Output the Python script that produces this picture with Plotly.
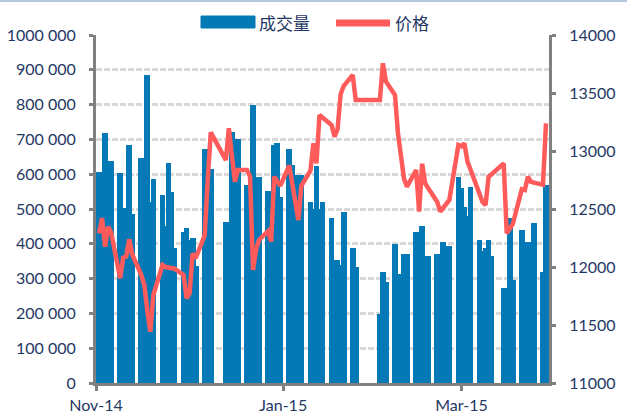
import plotly.graph_objects as go

# ---------------- data ----------------
dates = [
    "2014-11-24", "2014-11-25", "2014-11-26", "2014-11-27", "2014-11-28",
    "2014-12-01", "2014-12-02", "2014-12-03", "2014-12-04", "2014-12-05",
    "2014-12-08", "2014-12-09", "2014-12-10", "2014-12-11", "2014-12-12",
    "2014-12-15", "2014-12-16", "2014-12-17", "2014-12-18", "2014-12-19",
    "2014-12-22", "2014-12-23", "2014-12-24", "2014-12-25", "2014-12-26",
    "2014-12-29", "2014-12-30", "2014-12-31",
    "2015-01-05", "2015-01-06", "2015-01-07", "2015-01-08", "2015-01-09",
    "2015-01-12", "2015-01-13", "2015-01-14", "2015-01-15", "2015-01-16",
    "2015-01-19", "2015-01-20", "2015-01-21", "2015-01-22", "2015-01-23",
    "2015-01-26", "2015-01-27", "2015-01-28", "2015-01-29", "2015-01-30",
    "2015-02-02", "2015-02-03", "2015-02-04", "2015-02-05", "2015-02-06",
    "2015-02-09", "2015-02-10", "2015-02-11", "2015-02-12", "2015-02-13",
    "2015-02-16", "2015-02-17",
    "2015-02-25", "2015-02-26", "2015-02-27",
    "2015-03-02", "2015-03-03", "2015-03-04", "2015-03-05", "2015-03-06",
    "2015-03-09", "2015-03-10", "2015-03-11", "2015-03-12", "2015-03-13",
    "2015-03-16", "2015-03-17", "2015-03-18", "2015-03-19", "2015-03-20",
    "2015-03-23", "2015-03-24", "2015-03-25", "2015-03-26", "2015-03-27",
    "2015-03-30", "2015-03-31", "2015-04-01", "2015-04-02", "2015-04-03",
    "2015-04-07", "2015-04-08", "2015-04-09", "2015-04-10",
    "2015-04-13", "2015-04-14", "2015-04-15", "2015-04-16", "2015-04-17",
    "2015-04-20", "2015-04-21",
]

volume = [
    607000, 550000, 717000, 600000, 638000,
    603000, 500000, 504000, 683000, 487000,
    648000, 600000, 885000, 521000, 585000,
    539000, 452000, 631000, 548000, 389000,
    434000, 446000, 410000, 418000, 336000,
    671000, 614000, 614000,
    463000, 450000, 720000, 700000, 700000,
    569000, 540000, 799000, 560000, 591000,
    551000, 520000, 684000, 689000, 534000,
    671000, 626000, 590000, 598000, 598000,
    521000, 500000, 623000, 500000, 521000,
    475000, 353000, 353000, 340000, 492000,
    389000, 334000,
    198000, 318000, 291000,
    400000, 300000, 314000, 372000, 372000,
    435000, 420000, 451000, 340000, 365000,
    371000, 360000, 406000, 380000, 394000,
    593000, 559000, 505000, 480000, 564000,
    411000, 380000, 387000, 411000, 365000,
    272000, 260000, 473000, 296000,
    440000, 400000, 406000, 400000, 459000,
    320000, 569000,
]

price = [
    12290, 12420, 12175, 12347, 12300,
    11903, 12080, 12089, 12239, 12110,
    11930, 11845, 11620, 11442, 11760,
    12017, 12000, 11995, 11990, 11985,
    11930, 11730, 11773, 12118, 12075,
    12276, 12750, 13160,
    12922, 13196, 12960, 12735, 12836,
    12836, 12780, 11974, 12150, 12233,
    12310, 12218, 12779, 12740, 12700,
    12875, 12720, 12600, 12405, 12700,
    12830, 13066, 12894, 13310, 13290,
    13224, 13123, 13190, 13490, 13560,
    13655, 13440,
    13440, 13756, 13600,
    13483, 13150, 12950, 12760, 12693,
    12836, 12477, 12890, 12721, 12680,
    12560, 12477, 12510, 12550, 12578,
    13052, 13040, 13066, 12908, 12840,
    12630, 12560, 12534, 12779, 12800,
    12894, 12290, 12330, 12370,
    12670, 12664, 12779, 12735, 12727,
    12710, 13238,
]

x_tick_vals = ["2014-11-23", "2015-01-24", "2015-03-24"]
x_tick_text = ["Nov-14", "Jan-15", "Mar-15"]
y_tick_vals = [0, 100000, 200000, 300000, 400000, 500000, 600000, 700000, 800000, 900000, 1000000]
y_tick_text = ["0", "100 000", "200 000", "300 000", "400 000", "500 000",
               "600 000", "700 000", "800 000", "900 000", "1000 000"]
y2_tick_vals = [11000, 11500, 12000, 12500, 13000, 13500, 14000]
y2_tick_text = ["11000", "11500", "12000", "12500", "13000", "13500", "14000"]

series_names = ["成交量", "价格"]

# ---------------- styles ----------------
BAR_COLOR = "#0579B5"
LINE_COLOR = "#FF5B5B"
AXIS_COLOR = "#808080"
GRID_COLOR = "#D9D9D9"
TEXT_COLOR = "#1F3864"
FONT = "Lato, 'Open Sans', sans-serif"
CJK_FONT = "'Noto Sans CJK SC', sans-serif"

W, H = 627, 414
ML, MR, MT, MB = 96, 78, 35, 31
PW, PH = W - ML - MR, H - MT - MB


def px_x(px):
    return (px - ML) / PW


def px_y(py):
    return (H - MB - py) / PH


fig = go.Figure()
fig.add_trace(go.Bar(
    x=dates, y=volume, name=series_names[0],
    width=1.9 * 86400000,
    marker=dict(color=BAR_COLOR, line=dict(width=0)),
    yaxis="y", showlegend=False,
))
fig.add_trace(go.Scatter(
    x=dates, y=price, name=series_names[1], mode="lines",
    line=dict(color=LINE_COLOR, width=4.5),
    yaxis="y2", showlegend=False,
))

tickfont = dict(family=FONT, size=16, color=TEXT_COLOR)

fig.update_layout(
    template="none",
    width=W, height=H,
    margin=dict(l=ML, r=MR, t=MT, b=MB, pad=0),
    paper_bgcolor="white", plot_bgcolor="white",
    showlegend=False,
    bargap=0,
    xaxis=dict(
        type="date", range=["2014-11-23", "2015-04-22"],
        tickmode="array", tickvals=x_tick_vals, ticktext=x_tick_text,
        ticks="outside", ticklen=5, tickwidth=3, tickcolor=AXIS_COLOR,
        showline=True, linecolor=AXIS_COLOR, linewidth=3,
        showgrid=False, zeroline=False, tickfont=tickfont,
        ticklabelstandoff=1, automargin=False,
    ),
    yaxis=dict(
        range=[0, 1000000],
        tickmode="array", tickvals=y_tick_vals, ticktext=y_tick_text,
        ticks="outside", ticklen=4, tickwidth=3, tickcolor=AXIS_COLOR,
        showline=True, linecolor=AXIS_COLOR, linewidth=3,
        showgrid=True, gridcolor=GRID_COLOR, gridwidth=2.5, griddash="6px,2px",
        zeroline=False, tickfont=tickfont, ticklabelstandoff=10, automargin=False,
    ),
    yaxis2=dict(
        overlaying="y", side="right", range=[11000, 14000],
        tickmode="array", tickvals=y2_tick_vals, ticktext=y2_tick_text,
        ticks="outside", ticklen=4, tickwidth=3, tickcolor=AXIS_COLOR,
        showline=True, linecolor=AXIS_COLOR, linewidth=3,
        showgrid=False, zeroline=False, tickfont=tickfont,
        ticklabelstandoff=10, automargin=False,
    ),
    shapes=[
        # top frame line
        dict(type="line", xref="paper", yref="paper",
             x0=px_x(0), x1=px_x(W), y0=px_y(1), y1=px_y(1),
             line=dict(color="#B7C8DA", width=2)),
        # legend symbol: bars
        dict(type="rect", xref="paper", yref="paper",
             x0=px_x(201), x1=px_x(255), y0=px_y(28), y1=px_y(16),
             fillcolor=BAR_COLOR, line=dict(color=BAR_COLOR, width=1)),
        # legend symbol: line
        dict(type="line", xref="paper", yref="paper",
             x0=px_x(336), x1=px_x(390), y0=px_y(23), y1=px_y(23),
             line=dict(color=LINE_COLOR, width=7)),
    ],
    annotations=[
        dict(text=series_names[0], xref="paper", yref="paper",
             x=px_x(257), y=px_y(22), xanchor="left", yanchor="middle",
             showarrow=False, font=dict(family=CJK_FONT, size=17, color=TEXT_COLOR)),
        dict(text=series_names[1], xref="paper", yref="paper",
             x=px_x(393), y=px_y(22), xanchor="left", yanchor="middle",
             showarrow=False, font=dict(family=CJK_FONT, size=17, color=TEXT_COLOR)),
    ],
)

fig.write_html(
    "out.html",
    config={"displayModeBar": False},
    post_script="document.body.style.margin='0px';document.body.style.overflow='hidden';",
)
